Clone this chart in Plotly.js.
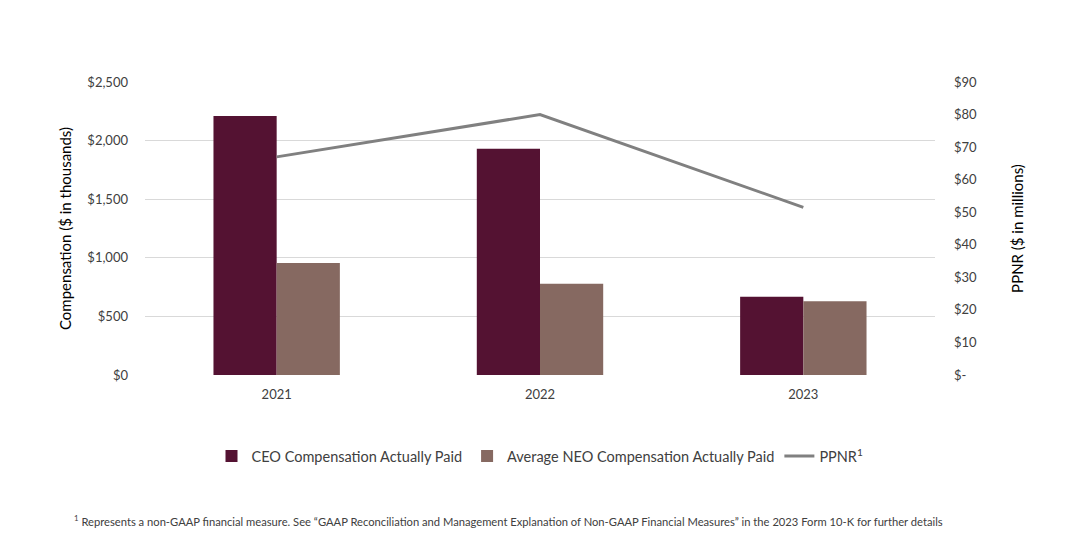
<!DOCTYPE html>
<html>
<head>
<meta charset="utf-8">
<script src="https://cdn.plot.ly/plotly-3.0.1.min.js"></script>
<style>html,body{margin:0;padding:0;background:#fff;}#chart{width:1071px;height:542px;}</style>
</head>
<body>
<div id="chart"></div>
<script>
const years = ["2021", "2022", "2023"];
const ceoComp = [2210, 1930, 668];
const neoComp = [956, 778, 630];
const ppnr = [67, 80, 51.5];
const leftTickVals = [0, 500, 1000, 1500, 2000, 2500];
const leftTickText = ["$0", "$500", "$1,000", "$1,500", "$2,000", "$2,500"];
const rightTickVals = [0, 10, 20, 30, 40, 50, 60, 70, 80, 90];
const rightTickText = ["$-", "$10", "$20", "$30", "$40", "$50", "$60", "$70", "$80", "$90"];

const FONT = "Lato, 'Open Sans', sans-serif";
const traces = [
  {type: "bar", name: "CEO Compensation Actually Paid", x: years, y: ceoComp,
   marker: {color: "#541232"}, hoverinfo: "y"},
  {type: "bar", name: "Average NEO Compensation Actually Paid", x: years, y: neoComp,
   marker: {color: "#866961"}, hoverinfo: "y"},
  {type: "scatter", mode: "lines", name: "PPNR<sup>1</sup>", x: years, y: ppnr, yaxis: "y2",
   line: {color: "#808080", width: 3}}
];
const layout = {
  width: 1071, height: 542,
  margin: {l: 145, r: 136, t: 82, b: 167},
  paper_bgcolor: "#fff", plot_bgcolor: "#fff",
  font: {family: FONT, size: 13, color: "#404040"},
  barmode: "group", bargap: 0.52, bargroupgap: 0,
  showlegend: true,
  legend: {orientation: "h", x: 0.5, xanchor: "center", y: -0.277, yanchor: "middle",
           font: {size: 14.5, color: "#404040"}, traceorder: "normal", itemwidth: 30},
  xaxis: {type: "category", showgrid: false, zeroline: false, showline: false,
          ticks: "", ticklabelstandoff: 10, tickfont: {size: 13, color: "#404040"}},
  yaxis: {range: [0, 2500], tickvals: leftTickVals, ticktext: leftTickText,
          showgrid: true, gridcolor: "#d9d9d9", gridwidth: 1, zeroline: false, showline: false,
          ticks: "", ticklabelstandoff: 16, tickfont: {size: 13, color: "#404040"},
          title: {text: "Compensation ($ in thousands)", font: {size: 15, color: "#000"}, standoff: 12}},
  yaxis2: {range: [0, 90], tickvals: rightTickVals, ticktext: rightTickText, overlaying: "y", side: "right",
           showgrid: false, zeroline: false, showline: false, ticks: "", ticklabelstandoff: 18,
           tickfont: {size: 13, color: "#404040"},
           title: {text: "PPNR ($ in millions)", font: {size: 15, color: "#000"}, standoff: 36}},
  annotations: [{
    xref: "paper", yref: "paper", x: -0.093, y: -0.495, xanchor: "left", yanchor: "middle",
    showarrow: false, align: "left",
    text: "<sup>1</sup> Represents a non-GAAP financial measure. See \u201cGAAP Reconciliation and Management Explanation of Non-GAAP Financial Measures\u201d in the 2023 Form 10-K for further details",
    font: {family: "'Liberation Sans Narrow', " + FONT, size: 11.2, color: "#404040"}
  }]
};
Plotly.newPlot("chart", traces, layout, {displayModeBar: false, staticPlot: true});
</script>
</body>
</html>
